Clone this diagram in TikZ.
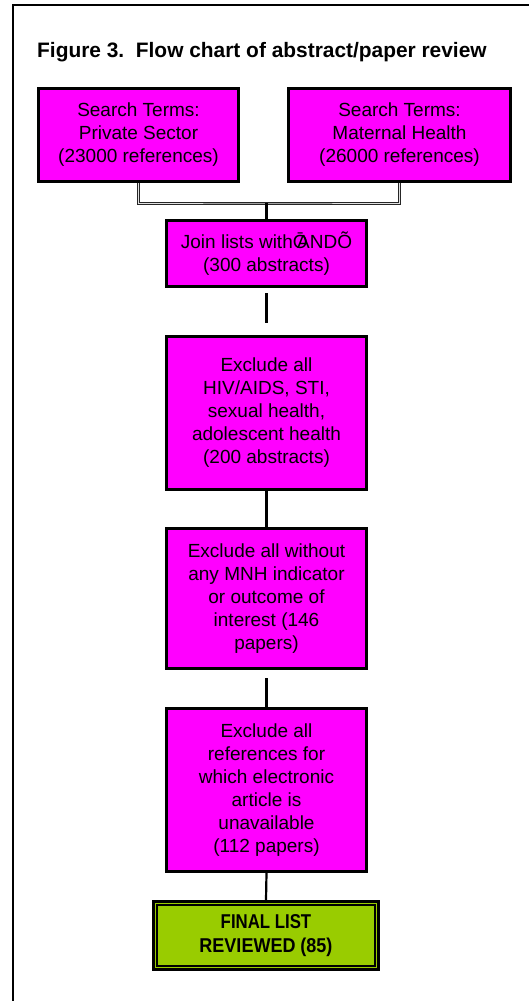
\documentclass[tikz,border=0pt]{standalone}
\usepackage{fontspec}
\setmainfont{Liberation Sans}
\usetikzlibrary{calc}
\definecolor{mag}{HTML}{FF00FF}
\definecolor{lgreen}{HTML}{99CC00}
\begin{document}
\begin{tikzpicture}[x=1pt,y=1pt,
  box/.style={draw=black, line width=3pt, fill=mag, align=center, inner sep=0pt,
    font=\fontsize{19}{23}\selectfont},
  conn/.style={draw=black, line width=2.2pt},
  dconn/.style={draw=black!85, line width=1.1pt, double=black!12, double distance=0.8pt}
]
\useasboundingbox (0,0) rectangle (529,-1001);
% frame
\draw[line width=1.5pt] (13,-1010) -- (13,-5) -- (540,-5);
% title
\node[anchor=base west, inner sep=0pt, font=\fontsize{20.9}{24}\selectfont\bfseries] (title) at (37,-57)
  {Figure 3.\ \ Flow chart of abstract/paper review};
% boxes
\node[box, minimum width=200pt, minimum height=93pt] (b1) at (138.5,-135) {Search Terms:\\Private Sector\\(23000 references)};
\node[box, minimum width=222pt, minimum height=93pt] (b2) at (399.5,-135) {Search Terms:\\Maternal Health\\(26000 references)};
\node[box, minimum width=200pt, minimum height=66pt] (join) at (266.5,-253.5) {Join lists withŌ\kern-0.55em ANDÕ\\(300 abstracts)};
\node[box, minimum width=200pt, minimum height=153pt] (ex1) at (266.5,-413) {Exclude all\\HIV/AIDS, STI,\\sexual health,\\adolescent health\\(200 abstracts)};
\node[box, minimum width=200pt, minimum height=140pt] (ex2) at (266.5,-598.5) {Exclude all without\\any MNH indicator\\or outcome of\\interest (146\\papers)};
\node[box, minimum width=200pt, minimum height=163pt] (ex3) at (266.5,-790) {Exclude all\\references for\\which electronic\\article is\\unavailable\\(112 papers)};
\node[draw=black, line width=3pt, fill=lgreen, minimum width=225pt, minimum height=68pt, align=center, inner sep=0pt,
  font=\fontsize{20}{24}\selectfont\bfseries] (fin) at (266,-935.5)
  {\scalebox{0.84}[1]{FINAL LIST}\\\scalebox{0.9}[1]{REVIEWED (85)}};
\draw[line width=1.6pt] ($(fin.north west)+(5,-5)$) rectangle ($(fin.south east)+(-5,5)$);
% connectors
\coordinate (jn) at (266.5,-203);
\draw[dconn] (b1.south) |- (jn) -| (b2.south);
\draw[conn] (jn) -- (join.north);
\draw[conn] ([yshift=-5pt]join.south) -- ([yshift=12pt]ex1.north);
\draw[conn] (ex1.south) -- (ex2.north);
\draw[conn] ([yshift=-8pt]ex2.south) -- (ex3.north);
\draw[conn] (ex3.south) -- (fin.north);
\end{tikzpicture}
\end{document}
